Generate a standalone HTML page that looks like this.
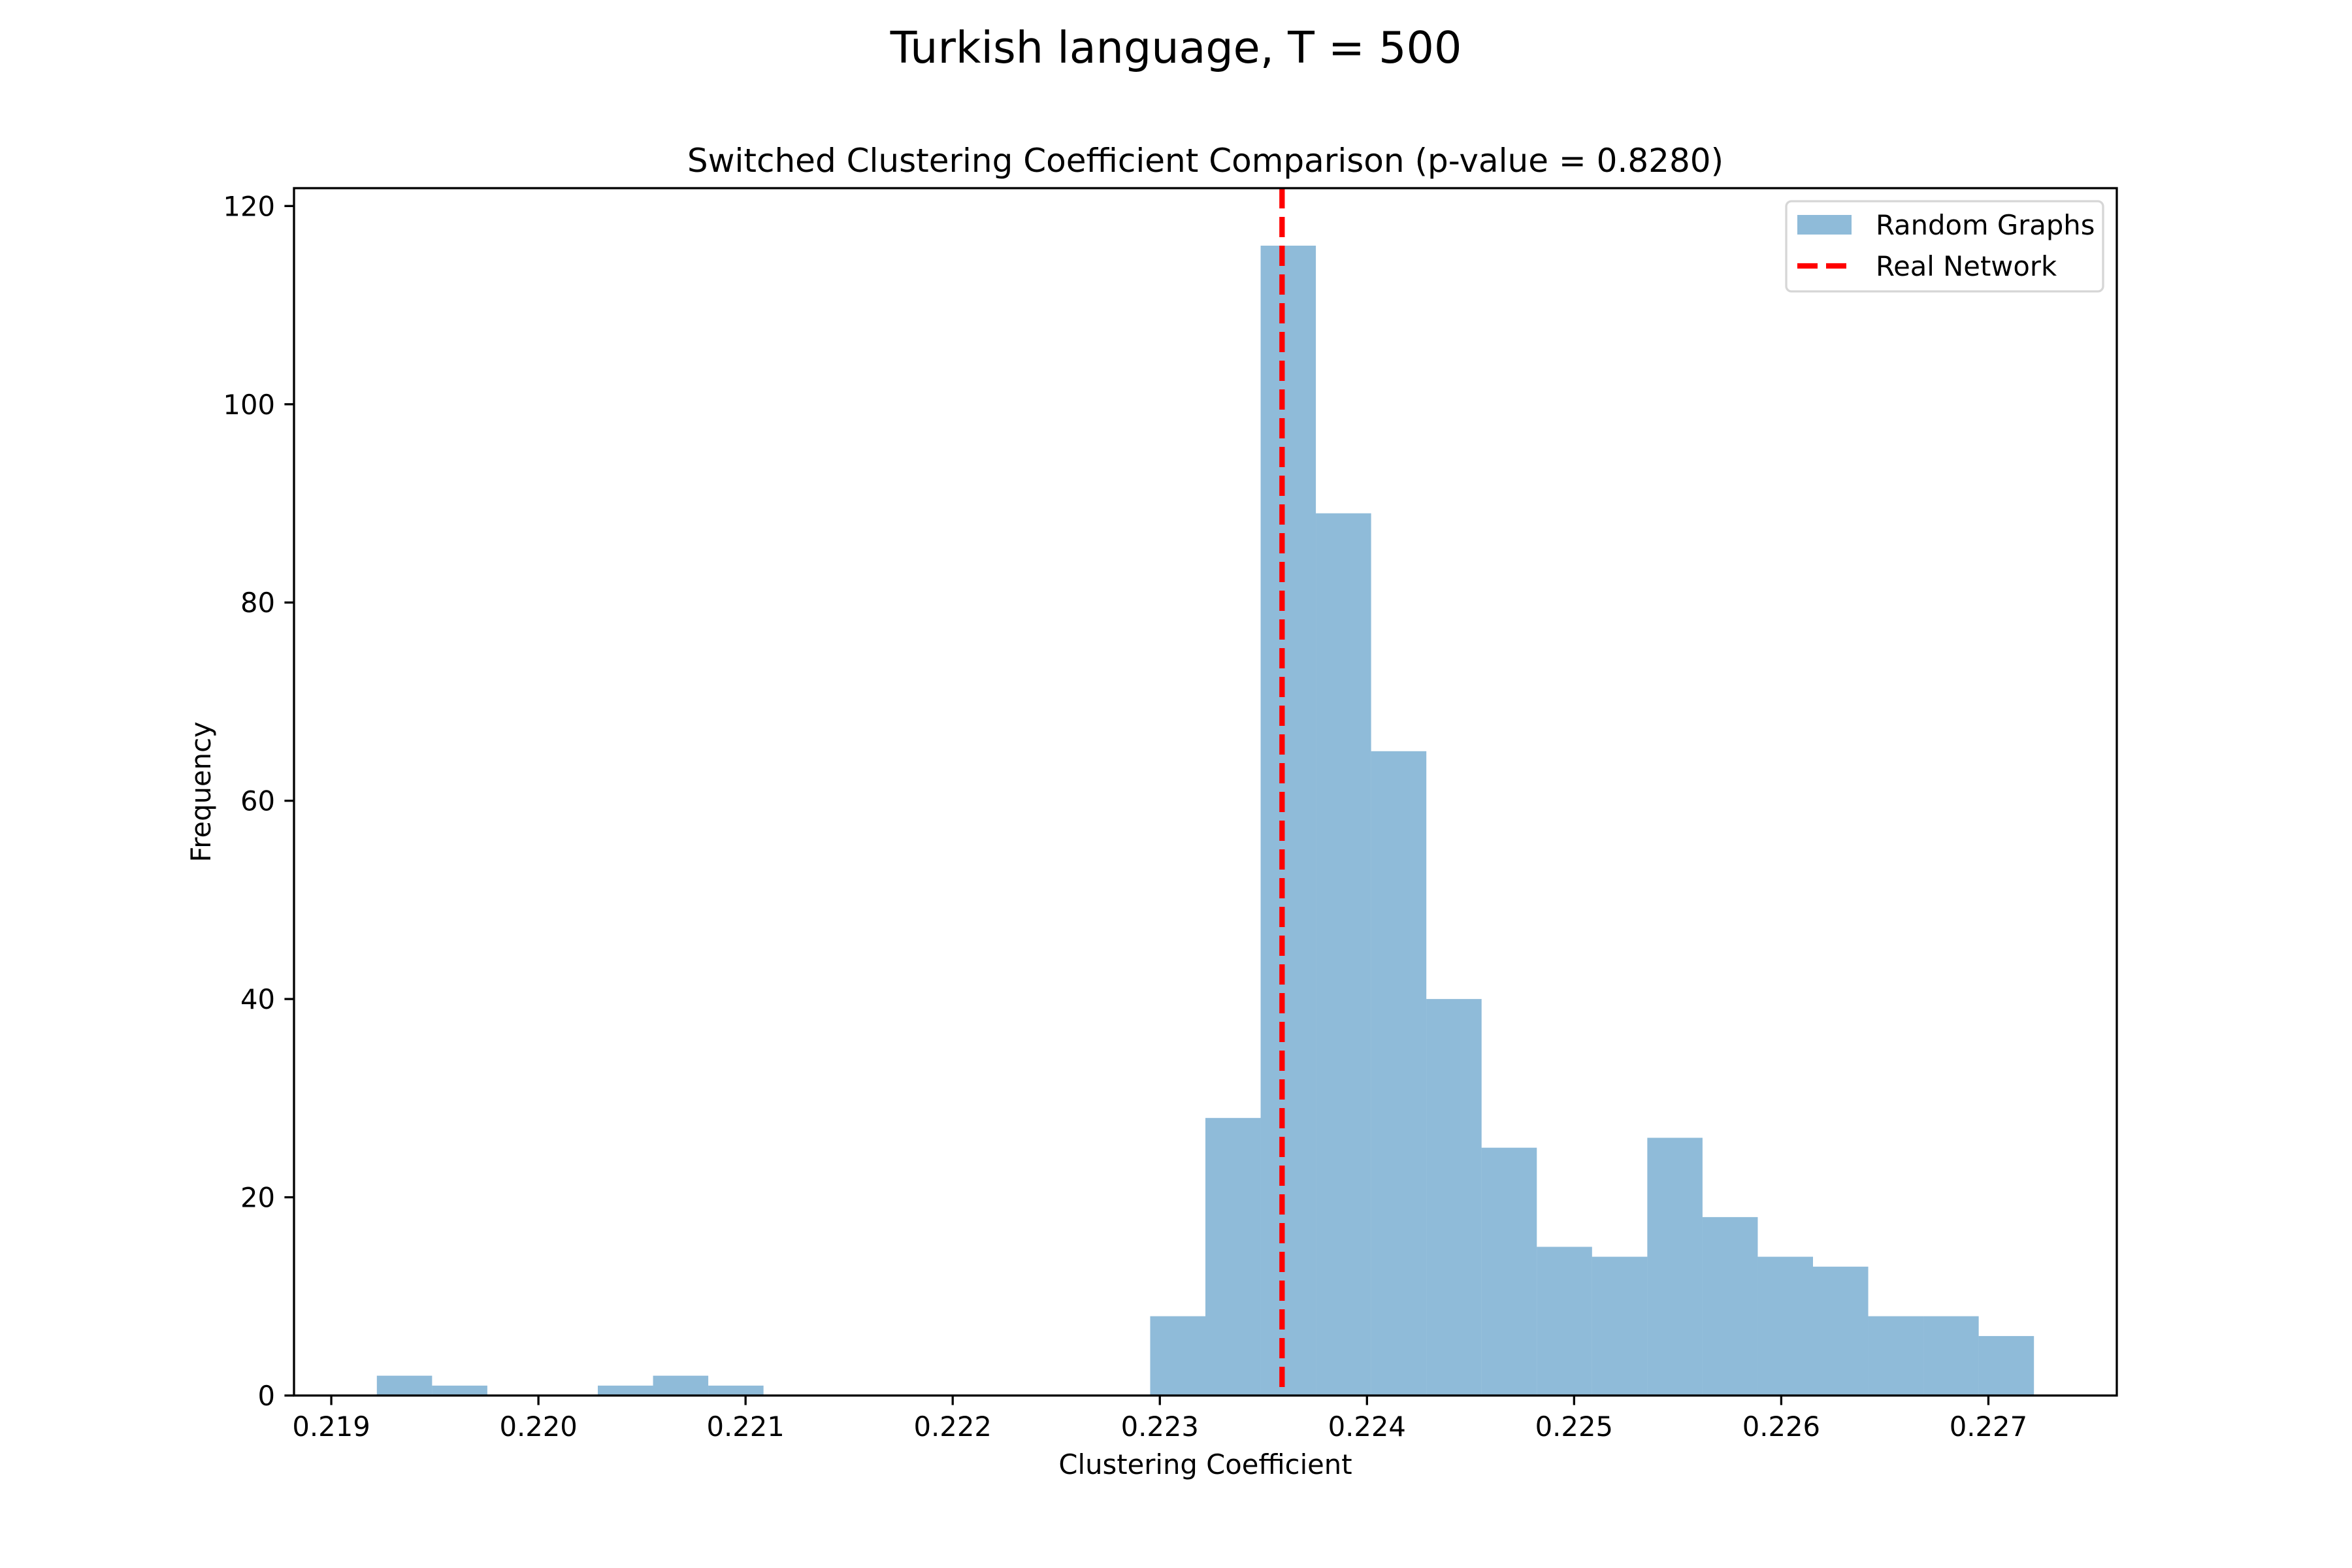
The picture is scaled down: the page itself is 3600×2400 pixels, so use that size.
<!DOCTYPE html>
<html><head><meta charset="utf-8"><style>
body{margin:0;background:#fff}
svg{display:block;font-family:"DejaVu Sans","Liberation Sans",sans-serif}
</style></head><body>
<svg id="chart" width="3600" height="2400" viewBox="0 0 3600 2400" xmlns="http://www.w3.org/2000/svg">
<rect width="3600" height="2400" fill="#fff"/>
<text x="1800" y="96" font-size="66.7" text-anchor="middle">Turkish language, T = 500</text>
<text x="1845" y="263" font-size="50" text-anchor="middle">Switched Clustering Coefficient Comparison (p-value = 0.8280)</text>
<g id="bars"></g>
<g id="ticks"></g>
<g id="vline"></g>
<rect x="450" y="288" width="2790" height="1848" fill="none" stroke="#000" stroke-width="3.3"/>
<text x="1845" y="2256" font-size="41.7" text-anchor="middle">Clustering Coefficient</text>
<text x="322" y="1212" font-size="41.7" text-anchor="middle" transform="rotate(-90 322 1212)">Frequency</text>
<g>
<rect x="2734" y="308" width="485" height="138" rx="8" fill="#fff" fill-opacity="0.8" stroke="#d6d6d6" stroke-width="3.3"/>
<rect x="2751" y="329" width="83" height="30" fill="#1f77b4" fill-opacity="0.5"/>
<text x="2871" y="359" font-size="41.7">Random Graphs</text>
<line x1="2751" y1="407" x2="2834" y2="407" stroke="#f00" stroke-width="8.3" stroke-dasharray="31 13"/>
<text x="2871" y="422" font-size="41.7">Real Network</text>
</g>
</svg>
<script>
const counts = [2,1,0,0,1,2,1,0,0,0,0,0,0,0,8,28,116,89,65,40,25,15,14,26,18,14,13,8,8,6];
const binMin = 0.21922;
const binMax = 0.22722;
const realValue = 0.22359;
const xTicks = [0.219,0.220,0.221,0.222,0.223,0.224,0.225,0.226,0.227];
const xTickLabels = ["0.219","0.220","0.221","0.222","0.223","0.224","0.225","0.226","0.227"];
const yTicks = [0,20,40,60,80,100,120];

const NS = "http://www.w3.org/2000/svg";
const L=450,R=3240,T=288,B=2136;
const pad=(binMax-binMin)*0.05;
const x0=binMin-pad, x1=binMax+pad;
const ymax=Math.max(...counts)*1.05;
const xs=v=>L+(v-x0)/(x1-x0)*(R-L);
const ys=v=>B-v/ymax*(B-T);
function mk(tag,attrs,parent){const e=document.createElementNS(NS,tag);for(const k in attrs)e.setAttribute(k,attrs[k]);parent.appendChild(e);return e;}
const bars=document.getElementById('bars');
const w=(binMax-binMin)/counts.length;
counts.forEach((c,i)=>{
  if(c<=0)return;
  const a=xs(binMin+i*w), b=xs(binMin+(i+1)*w);
  const r=mk('rect',{x:a,y:ys(c),width:b-a,height:B-ys(c),fill:'#1f77b4','fill-opacity':0.5},bars);
  
  
});
const tk=document.getElementById('ticks');
xTicks.forEach((v,i)=>{
  const l=mk('line',{x1:xs(v),x2:xs(v),y1:B,y2:B+14.6,stroke:'#000','stroke-width':3.3},tk);
  
  
  const t=mk('text',{x:xs(v),y:B+62,'font-size':41.7,'text-anchor':'middle'},tk);
  t.textContent=xTickLabels[i];
  
  
});
yTicks.forEach(v=>{
  const l=mk('line',{x1:L-14.6,x2:L,y1:ys(v),y2:ys(v),stroke:'#000','stroke-width':3.3},tk);
  
  
  const t=mk('text',{x:L-29,y:ys(v)+15,'font-size':41.7,'text-anchor':'end'},tk);
  t.textContent=String(v);
  
  
});
const vl=mk('line',{x1:xs(realValue),x2:xs(realValue),y1:T,y2:B,stroke:'#f00','stroke-width':8.3,'stroke-dasharray':'31 13'},document.getElementById('vline'));


</script>
</body></html>
